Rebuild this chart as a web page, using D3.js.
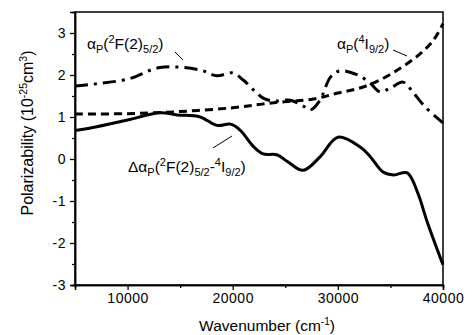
<!DOCTYPE html>
<html>
<head>
<meta charset="utf-8">
<script src="https://cdn.jsdelivr.net/npm/d3@7/dist/d3.min.js"></script>
<style>
  html, body { margin: 0; padding: 0; background: #fff; }
  svg text { font-family: "Liberation Sans", Arial, sans-serif; fill: #000; }
</style>
</head>
<body>
<svg id="chart" width="473" height="335"></svg>
<script>
// Wavenumber samples (cm^-1)
const wavenumber = [5000, 6700, 10000, 13100, 14700, 16900, 18500, 19800, 20700, 22000, 22900, 24200, 25200, 26700, 28300, 30000, 32100, 33100, 34300, 35300, 36600, 37600, 38500, 40000];
// Δα_P(2F(2)5/2 - 4I9/2)
const deltaAlpha = [0.68, 0.75, 0.93, 1.10, 1.05, 1.00, 0.80, 0.83, 0.69, 0.29, 0.12, 0.10, -0.06, -0.27, 0.05, 0.52, 0.29, 0.05, -0.31, -0.38, -0.33, -0.81, -1.50, -2.52];

// α_P(4I9/2)
const wnI = [5000, 10000, 15000, 20000, 23900, 27700, 30000, 32100, 34000, 36000, 37900, 39100, 40000];
const alphaI = [1.07, 1.08, 1.13, 1.22, 1.34, 1.43, 1.57, 1.69, 1.88, 2.17, 2.52, 2.83, 3.22];

// α_P(2F(2)5/2)
const wnF = [5000, 10000, 13100, 16900, 18500, 20000, 21000, 22000, 22900, 23900, 25500, 26700, 27400, 28300, 29300, 30200, 31900, 33100, 34000, 35000, 36200, 37200, 38300, 40000];
const alphaF = [1.74, 1.90, 2.18, 2.12, 1.98, 2.05, 1.88, 1.64, 1.45, 1.38, 1.40, 1.26, 1.17, 1.40, 1.95, 2.10, 2.00, 1.80, 1.60, 1.69, 1.83, 1.57, 1.24, 0.86];

const xTicks = [10000, 20000, 30000, 40000];
const yTicks = [-3, -2, -1, 0, 1, 2, 3];

const svg = d3.select("#chart");

const x = d3.scaleLinear().domain([5000, 40000]).range([75, 443]);
const y = d3.scaleLinear().domain([-3, 3.5]).range([285, 12]);

// Frame
svg.append("rect")
  .attr("x", x(5000)).attr("y", y(3.5))
  .attr("width", x(40000) - x(5000)).attr("height", y(-3) - y(3.5))
  .attr("fill", "none").attr("stroke", "#000").attr("stroke-width", 1.5);

// Axes
const xAxis = d3.axisBottom(x).tickValues(xTicks).tickSize(5).tickPadding(3).tickFormat(d3.format("d"));
const xMinor = d3.axisBottom(x).tickValues([15000, 25000, 35000]).tickSize(3).tickFormat("");
const yAxis = d3.axisLeft(y).tickValues(yTicks).tickSize(5).tickPadding(4).tickFormat(d => d);
const yMinor = d3.axisLeft(y).tickValues([-2.5, -1.5, -0.5, 0.5, 1.5, 2.5]).tickSize(3).tickFormat("");

function styleAxis(g) {
  g.select(".domain").attr("stroke", "#000").attr("stroke-width", 1.5);
  g.selectAll(".tick line").attr("stroke", "#000").attr("stroke-width", 1.3);
  g.selectAll(".tick text").attr("font-size", 14).attr("letter-spacing", 0.5)
    .attr("font-family", "Liberation Sans, Arial, sans-serif").attr("fill", "#000");
}
svg.append("g").attr("transform", `translate(0,${y(-3)})`).call(xAxis).call(styleAxis);
svg.append("g").attr("transform", `translate(0,${y(-3)})`).call(xMinor).call(styleAxis);
svg.append("g").attr("transform", `translate(${x(5000)},0)`).call(yAxis).call(styleAxis);
svg.append("g").attr("transform", `translate(${x(5000)},0)`).call(yMinor).call(styleAxis);

// Curves
const line = d3.line().x(d => x(d[0])).y(d => y(d[1])).curve(d3.curveCatmullRom.alpha(0.5));

svg.append("path")
  .datum(wavenumber.map((w, i) => [w, deltaAlpha[i]]))
  .attr("d", line).attr("fill", "none").attr("stroke", "#000").attr("stroke-width", 3);

svg.append("path")
  .datum(wnI.map((w, i) => [w, alphaI[i]]))
  .attr("d", line).attr("fill", "none").attr("stroke", "#000").attr("stroke-width", 3)
  .attr("stroke-dasharray", "8,5");

svg.append("path")
  .datum(wnF.map((w, i) => [w, alphaF[i]]))
  .attr("d", line).attr("fill", "none").attr("stroke", "#000").attr("stroke-width", 3)
  .attr("stroke-dasharray", "13,6,3,6");

// Curve labels with sub/superscripts
function label(xp, yp, parts) {
  const t = svg.append("text").attr("x", xp).attr("y", yp).attr("font-size", 15.5);
  parts.forEach(p => {
    const s = t.append("tspan").text(p.t);
    if (p.small) s.attr("font-size", 11);
    if (p.dy) s.attr("dy", p.dy);
  });
}
label(87, 49, [
  { t: "α" }, { t: "P", small: true, dy: 4 }, { t: "(", dy: -4 },
  { t: "2", small: true, dy: -6 }, { t: "F(2)", dy: 6 },
  { t: "5/2", small: true, dy: 4 }, { t: ")", dy: -4 }
]);
label(337, 49, [
  { t: "α" }, { t: "P", small: true, dy: 4 }, { t: "(", dy: -4 },
  { t: "4", small: true, dy: -6 }, { t: "I", dy: 6 },
  { t: "9/2", small: true, dy: 4 }, { t: ")", dy: -4 }
]);
label(128, 172, [
  { t: "Δα" }, { t: "P", small: true, dy: 4 }, { t: "(", dy: -4 },
  { t: "2", small: true, dy: -6 }, { t: "F(2)", dy: 6 },
  { t: "5/2", small: true, dy: 4 }, { t: "-", dy: -4 },
  { t: "4", small: true, dy: -6 }, { t: "I", dy: 6 },
  { t: "9/2", small: true, dy: 4 }, { t: ")", dy: -4 }
]);

// Leader lines
const leaders = [[175, 52, 183, 60], [393, 50, 407, 56], [213, 148, 232, 136]];
svg.selectAll(".leader").data(leaders).enter().append("line")
  .attr("x1", d => d[0]).attr("y1", d => d[1]).attr("x2", d => d[2]).attr("y2", d => d[3])
  .attr("stroke", "#000").attr("stroke-width", 1);

// Axis titles
const xt = svg.append("text").attr("x", 267).attr("y", 331).attr("text-anchor", "middle").attr("font-size", 15.5);
xt.append("tspan").text("Wavenumber (cm");
xt.append("tspan").text("-1").attr("font-size", 10).attr("dy", -6);
xt.append("tspan").text(")").attr("dy", 6);

const yt = svg.append("text").attr("transform", "translate(33,133) rotate(-90)")
  .attr("text-anchor", "middle").attr("font-size", 16);
yt.append("tspan").text("Polarizability (10");
yt.append("tspan").text("-25").attr("font-size", 10.5).attr("dy", -6);
yt.append("tspan").text("cm").attr("dy", 6);
yt.append("tspan").text("3").attr("font-size", 10.5).attr("dy", -6);
yt.append("tspan").text(")").attr("dy", 6);
</script>
</body>
</html>
